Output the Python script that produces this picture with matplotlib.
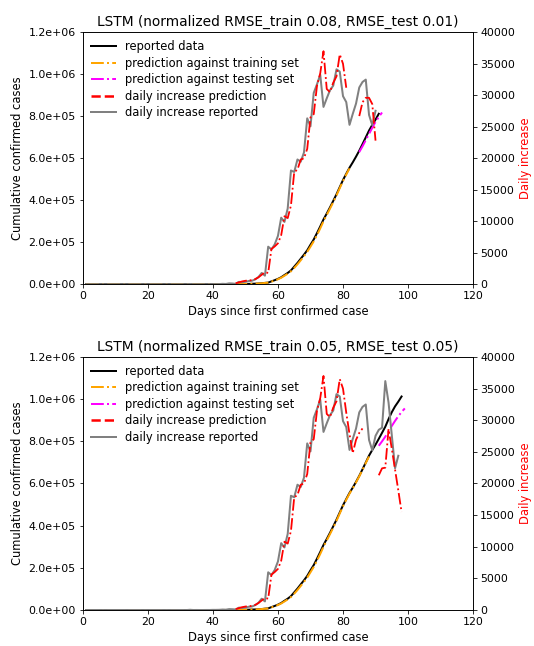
import matplotlib
matplotlib.use('Agg')
import matplotlib.pyplot as plt
from matplotlib.lines import Line2D
import numpy as np

# cumulative confirmed cases, day 1..98
reported = [1, 1, 2, 2, 5, 5, 5, 5, 5, 7, 8, 8, 11, 11, 11, 11, 11, 11, 11, 11,
            12, 12, 13, 13, 13, 13, 13, 13, 13, 13, 15, 15, 15, 51, 51, 57, 58, 60, 68, 74,
            98, 118, 149, 217, 262, 402, 518, 583, 959, 1281, 1663, 2179, 2727, 3499, 4632,
            6421, 7783, 13747, 19273, 25600, 33276, 43847, 53740, 65778, 83836, 101657,
            121465, 140909, 161831, 188172, 213242, 243622, 275367, 308650, 336802, 366317,
            397121, 428654, 462780, 496535, 526396, 555313, 580619, 607670, 636350, 667592,
            699706, 732197, 759086, 784326, 811865, 840351, 869170, 905358, 938154, 965785,
            988197, 1012582]

# training-set prediction (cumulative), day 1..88
train_pred = [0, 0, 1, 1, 2, 3, 4, 4, 5, 5, 6, 7, 8, 9, 10, 10, 11, 11, 11, 11,
              12, 12, 12, 13, 13, 13, 13, 13, 13, 13, 14, 15, 16, 30, 48, 54, 57, 60, 65, 72,
              90, 112, 140, 200, 250, 380, 500, 600, 900, 1250, 1600, 2100, 2650, 3400, 4500,
              6100, 7600, 12500, 17800, 23800, 31000, 40500, 50000, 61500, 77500, 95000,
              114000, 133500, 154000, 179000, 204500, 234000, 266000, 300000, 330000, 360000,
              391000, 423000, 458000, 492000, 523000, 552000, 578000, 605000, 634000, 665000,
              697000, 728000]

# testing-set prediction (cumulative)
test_days_1 = [85, 86, 87, 88, 89, 90, 91, 92]
test_pred_1 = [630000, 657000, 686500, 716000, 745000, 773500, 796500, 818000]
test_days_2 = [91, 92, 93, 94, 95, 96, 97, 98, 99]
test_pred_2 = [779000, 800000, 822000, 846000, 873000, 897000, 919000, 939000, 956000]

# daily increase prediction, training part, from day 47
daily_train_pred = [150, 300, 450, 550, 600, 650, 800, 1100, 1500, 1900, 1800, 5600, 6000,
                    6500, 7800, 10800, 10500, 12500, 17800, 18200, 19800, 20000, 21500,
                    26500, 27000, 31500, 33500, 37000, 31000, 30500, 32000, 33000, 36500,
                    35000, 31200, 27800, 24800, 26900, 28000, 28700]
# daily increase prediction, testing part
daily_test_days_1 = [85, 86, 87, 88, 89, 90]
daily_test_pred_1 = [26700, 28900, 29600, 29600, 28600, 22800]
daily_test_days_2 = [91, 92, 93, 94, 95, 96, 97, 98]
daily_test_pred_2 = [21300, 22400, 22500, 28600, 25500, 22200, 18900, 15500]

titles = ['LSTM (normalized RMSE_train 0.08, RMSE_test 0.01)',
          'LSTM (normalized RMSE_train 0.05, RMSE_test 0.05)']

panels = [
    dict(n=91, n_train=82, n_dtrain=81, tdays=test_days_1, tpred=test_pred_1,
         ddays=daily_test_days_1, dpred=daily_test_pred_1),
    dict(n=98, n_train=88, n_dtrain=87, tdays=test_days_2, tpred=test_pred_2,
         ddays=daily_test_days_2, dpred=daily_test_pred_2),
]

plt.rcParams['font.family'] = 'DejaVu Sans'
plt.rcParams['font.size'] = 11.5
plt.rcParams['xtick.labelsize'] = 11
plt.rcParams['ytick.labelsize'] = 11

fig = plt.figure(figsize=(534 / 72, 646 / 72), dpi=72)
boxes = [[0.155, 0.560, 0.731, 0.390], [0.155, 0.0557, 0.731, 0.3917]]

for i, p in enumerate(panels):
    ax = fig.add_axes(boxes[i])
    cum = np.array(reported[:p['n']])
    days = np.arange(1, p['n'] + 1)
    ax.plot(days, cum, color='black', lw=2)
    tr = train_pred[:p['n_train']]
    ax.plot(np.arange(1, len(tr) + 1), tr, color='orange', ls='-.', lw=2)
    ax.plot(p['tdays'], p['tpred'], color='magenta', ls='-.', lw=2)
    ax.set_xlim(0, 120)
    ax.set_ylim(0, 1.2e6)
    ax.set_xticks(range(0, 121, 20))
    ax.set_yticks(np.arange(0, 1.21e6, 2e5))
    ax.yaxis.set_major_formatter(matplotlib.ticker.FormatStrFormatter('%.1e'))
    ax.set_xlabel('Days since first confirmed case')
    ax.set_ylabel('Cumulative confirmed cases')
    ax.set_title(titles[i], fontsize=13.8, pad=6)

    ax2 = ax.twinx()
    daily = np.diff(cum)
    ax2.plot(np.arange(1, len(daily) + 1), daily, color='gray', lw=2)
    dtr = daily_train_pred[:p['n_dtrain'] - 46]
    ax2.plot(np.arange(47, 47 + len(dtr)), dtr, color='red', ls='-.', lw=1.8)
    ax2.plot(p['ddays'], p['dpred'], color='red', ls='-.', lw=1.8)
    ax2.set_ylim(0, 40000)
    ax2.set_yticks(range(0, 40001, 5000))
    ax2.set_ylabel('Daily increase', color='red')

    handles = [Line2D([], [], color='black', lw=2),
               Line2D([], [], color='orange', ls='-.', lw=2),
               Line2D([], [], color='magenta', ls='-.', lw=2),
               Line2D([], [], color='red', ls='--', lw=2.5),
               Line2D([], [], color='gray', lw=2)]
    labels = ['reported data', 'prediction against training set',
              'prediction against testing set', 'daily increase prediction',
              'daily increase reported']
    ax.legend(handles, labels, loc='upper left', frameon=False, fontsize=11.5,
              handlelength=2.2, labelspacing=0.3, borderaxespad=0.3)

fig.savefig('out.png', dpi=72)
